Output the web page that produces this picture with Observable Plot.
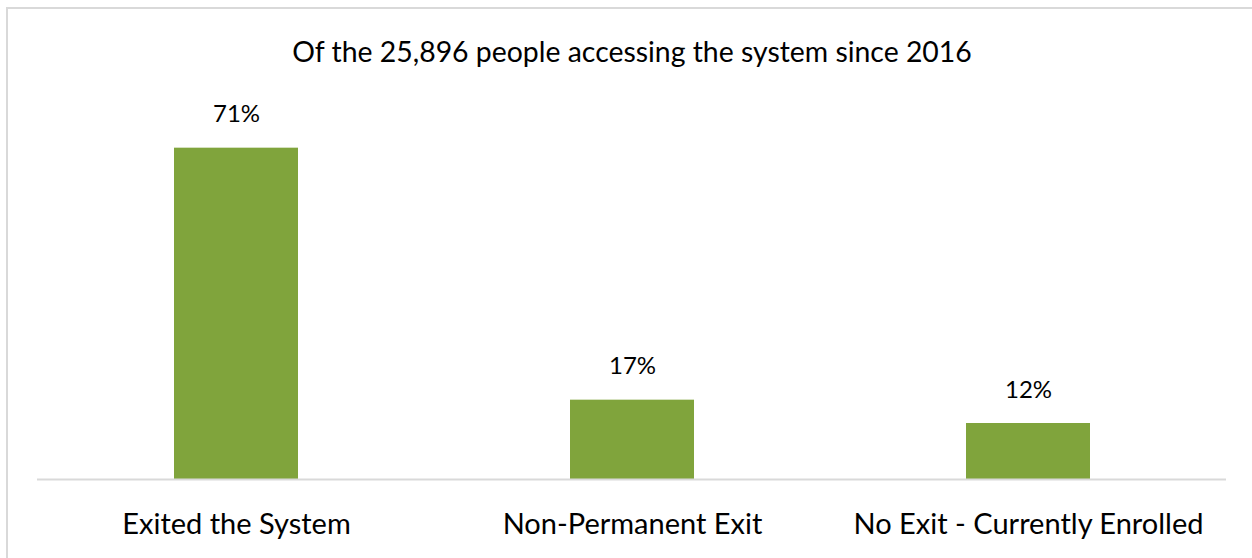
<!DOCTYPE html>
<html>
<head>
<meta charset="utf-8">
<script src="https://cdn.jsdelivr.net/npm/d3@7"></script>
<script src="https://cdn.jsdelivr.net/npm/@observablehq/plot@0.6"></script>
<style>
  html, body { margin: 0; padding: 0; background: #fff; }
  body { width: 1252px; height: 558px; overflow: hidden; position: relative; font-family: Lato, "Open Sans", sans-serif; }
  #frame { position: absolute; left: 6px; top: 7px; width: 1300px; height: 600px; border-left: 2px solid #d9d9d9; border-top: 2px solid #d9d9d9; box-sizing: border-box; }
  #title { position: absolute; left: 0; top: 0; width: 1264px; height: 90px; line-height: 102px; text-align: center; font-size: 28.4px; color: #000; }
  #chart { position: absolute; left: 0; top: 90px; }
</style>
</head>
<body>
<div id="frame"></div>
<div id="title"></div>
<div id="chart"></div>
<script>
const titleText = "Of the 25,896 people accessing the system since 2016";
const categories = ["Exited the System", "Non-Permanent Exit", "No Exit - Currently Enrolled"];
const values = [71, 17, 12];
const valueLabels = ["71%", "17%", "12%"];

const data = categories.map((c, i) => ({category: c, value: values[i], label: valueLabels[i]}));

document.getElementById("title").textContent = titleText;

const chart = Plot.plot({
  width: 1252,
  height: 468,
  marginLeft: 37,
  marginRight: 26,
  marginTop: 39,
  marginBottom: 79,
  style: {fontFamily: "Lato, 'Open Sans', sans-serif", background: "transparent", color: "#000"},
  x: {domain: categories, paddingInner: 0.687, paddingOuter: 0.3435, label: null},
  y: {domain: [0, 75], axis: null},
  marks: [
    Plot.barY(data, {x: "category", y: "value", fill: "#80a43c"}),
    Plot.ruleY([0], {stroke: "#d9d9d9", strokeWidth: 2}),
    Plot.text(data, {x: "category", y: "value", text: "label", lineAnchor: "bottom", dy: -26, fontSize: 24, fill: "#000"}),
    Plot.axisX({tickSize: 0, tickPadding: 34, fontSize: 29, label: null, fill: "#000"})
  ]
});
document.getElementById("chart").appendChild(chart);
</script>
</body>
</html>
